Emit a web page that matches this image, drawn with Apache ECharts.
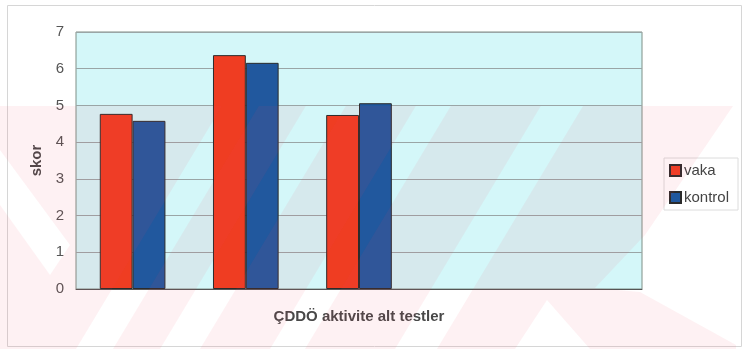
<!DOCTYPE html>
<html>
<head>
<meta charset="utf-8">
<script src="https://cdn.jsdelivr.net/npm/echarts@6/dist/echarts.min.js"></script>
<style>
  html, body { margin: 0; padding: 0; background: #ffffff; }
  #chart { width: 744px; height: 349px; }
</style>
</head>
<body>
<div id="chart"></div>
<script>
// Subtest groups along the x axis (five slots, three filled)
const categories = ['T1', 'T2', 'T3', 'T4', 'T5'];
// Mean scores per group
const vaka    = [4.77, 6.37, 4.74, null, null];
const kontrol = [4.58, 6.16, 5.06, null, null];
const seriesNames = ['vaka', 'kontrol'];
const yTicks = { min: 0, max: 7, interval: 1 };
const xTitle = 'ÇDDÖ aktivite alt testler';
const yTitle = 'skor';

// Faint diagonal page watermark
const WM = { left: 0, right: 736, top: 106, bottom: 349, slope: 0.6 };
const wmFill = 'rgba(240,70,100,0.075)';

function clipX(poly, xmin, xmax) {
  function clipEdge(pts, inside, cut) {
    const out = [];
    for (let i = 0; i < pts.length; i++) {
      const a = pts[i], b = pts[(i + 1) % pts.length];
      const ia = inside(a), ib = inside(b);
      if (ia) out.push(a);
      if (ia !== ib) out.push(cut(a, b));
    }
    return out;
  }
  const cutAt = (xv) => (a, b) => {
    const t = (xv - a[0]) / (b[0] - a[0]);
    return [xv, a[1] + t * (b[1] - a[1])];
  };
  let p = clipEdge(poly, (q) => q[0] >= xmin, cutAt(xmin));
  p = clipEdge(p, (q) => q[0] <= xmax, cutAt(xmax));
  return p;
}

function slantBand(a, b) {
  const dx = WM.slope * (WM.bottom - WM.top);
  const poly = [[a, WM.bottom], [b, WM.bottom], [b + dx, WM.top], [a + dx, WM.top]];
  return clipX(poly, WM.left, WM.right);
}

const wmShapes = [
  [[0, 106], [222, 106], [76, 349], [0, 349], [0, 205], [50, 275], [70, 245], [0, 150]],
  slantBand(113, 160),
  slantBand(200, 270),
  slantBand(305, 395),
  [[437, 349], [583, 106], [733, 106], [645, 235], [595, 288], [640, 292], [736, 345],
   [736, 349], [590, 349], [547, 300], [515, 349]]
];

const graphics = [
  {
    type: 'rect', z: 0, silent: true,
    shape: { x: 7.5, y: 5.5, width: 734, height: 341 },
    style: { fill: 'none', stroke: '#d6d6d6', lineWidth: 1 }
  }
].concat(wmShapes.map((pts) => ({
  type: 'polygon', z: 100, silent: true,
  shape: { points: pts },
  style: { fill: wmFill }
})));

const chart = echarts.init(document.getElementById('chart'), null, { renderer: 'canvas' });

const barStyle = (color) => ({ color: color, borderColor: '#2b2b2b', borderWidth: 1 });

chart.setOption({
  animation: false,
  backgroundColor: '#ffffff',
  textStyle: { fontFamily: 'Liberation Sans, Arial, sans-serif' },
  grid: {
    left: 76, top: 32, right: 102, bottom: 60,
    show: true,
    backgroundColor: '#d4f7f9',
    borderColor: '#7f8f86',
    borderWidth: 1
  },
  legend: {
    orient: 'vertical',
    left: 664, top: 158,
    padding: [5, 9, 5, 5],
    itemWidth: 11, itemHeight: 11, itemGap: 12,
    icon: 'rect',
    backgroundColor: '#ffffff',
    borderColor: '#dcdcdc',
    borderWidth: 1,
    textStyle: { fontSize: 15, color: '#444', padding: [0, 0, 0, -2] },
    data: seriesNames
  },
  xAxis: {
    type: 'category',
    data: categories,
    name: xTitle,
    nameLocation: 'middle',
    nameGap: 20,
    nameTextStyle: { fontSize: 15, fontWeight: 'bold', color: '#484848' },
    axisLine: { show: true, lineStyle: { color: '#555', width: 1 } },
    axisTick: { show: false },
    axisLabel: { show: false },
    splitLine: { show: false }
  },
  yAxis: {
    type: 'value',
    min: yTicks.min, max: yTicks.max, interval: yTicks.interval,
    name: yTitle,
    nameLocation: 'middle',
    nameGap: 32,
    nameRotate: 90,
    nameTextStyle: { fontSize: 15, fontWeight: 'bold', color: '#484848' },
    axisLine: { show: false },
    axisTick: { show: false },
    axisLabel: { fontSize: 15, color: '#555', margin: 12 },
    splitLine: { show: true, lineStyle: { color: '#9aa5a6', width: 1 } }
  },
  series: [
    {
      name: seriesNames[0], type: 'bar', data: vaka,
      barGap: '0%', barCategoryGap: '42%',
      itemStyle: barStyle('#ef3d22')
    },
    {
      name: seriesNames[1], type: 'bar', data: kontrol,
      itemStyle: barStyle('#21589e')
    }
  ],
  graphic: graphics
});
</script>
</body>
</html>
